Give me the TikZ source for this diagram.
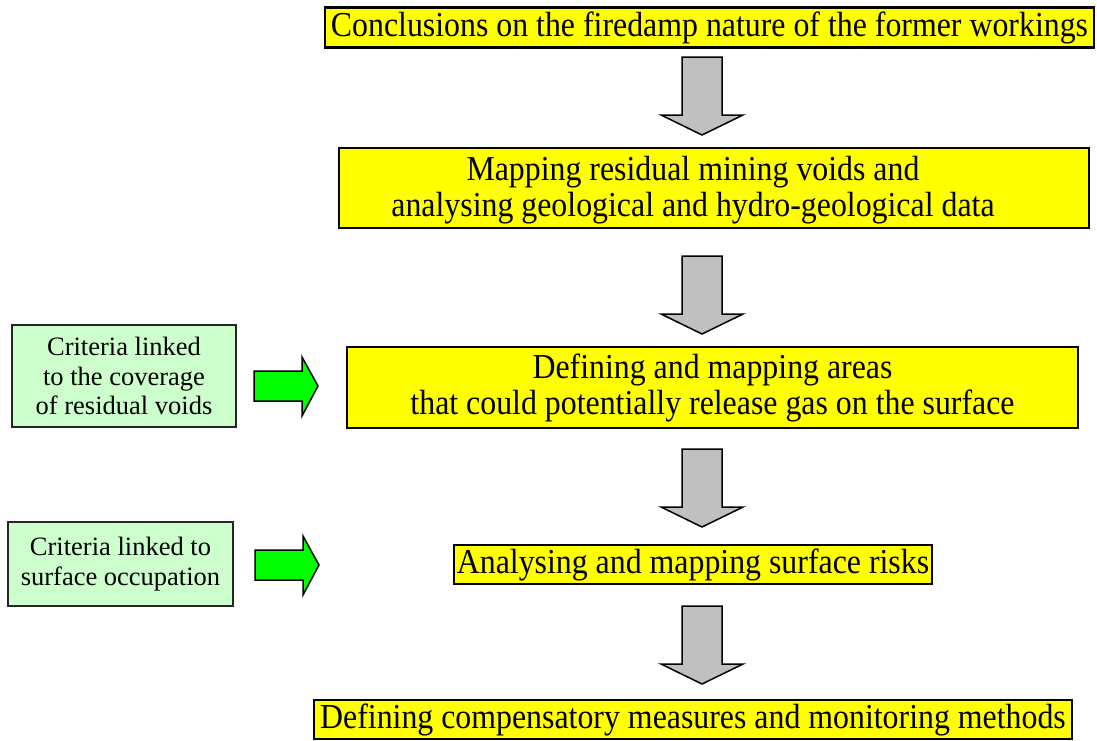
\documentclass[tikz,border=0pt]{standalone}
\usepackage{fontspec}
\setmainfont{Liberation Serif}
\newfontfamily\yfont{Liberation Serif}[FakeStretch=0.91]
\definecolor{yel}{RGB}{255,255,0}
\definecolor{lgreen}{RGB}{204,255,204}
\definecolor{bgreen}{RGB}{0,255,0}
\definecolor{agray}{RGB}{192,192,192}
\tikzset{
 ybox/.style={draw=black, line width=2.5pt, fill=yel, inner sep=0pt, font=\yfont\fontsize{35}{36}\selectfont, align=center},
 ytext/.style={inner sep=0pt, font=\yfont\fontsize{35}{36}\selectfont, align=center},
 gbox/.style={draw=black!85, line width=1.5pt, fill=lgreen, inner sep=0pt, font=\fontsize{26.5}{29.5}\selectfont, align=center},
 grayarrow/.style={draw=black, line width=1.5pt, fill=agray, line join=miter},
 greenarrow/.style={draw=black, line width=1.5pt, fill=bgreen, line join=miter},
 downarr/.pic={\filldraw[grayarrow] (-20,0) -- (20,0) -- (20,58) -- (41,58) -- (0,78) -- (-41,58) -- (-20,58) -- cycle;},
 rightarr/.pic={\filldraw[greenarrow] (0,-15) -- (48,-15) -- (48,-29) -- (64,0) -- (48,30) -- (48,15) -- (0,15) -- cycle;}
}
\begin{document}
\begin{tikzpicture}[x=1pt,y=-1pt]
\useasboundingbox (0,0) rectangle (1097,740);
% yellow boxes
\node[ybox, minimum width=769pt, minimum height=40pt] (b1) at (709.5,27.5) {Conclusions on the firedamp nature of the former workings};
\node[ybox, minimum width=750pt, minimum height=80pt] (b2) at (714,188) {};
\node[ytext] (t2) at (693,190) {Mapping residual mining voids and\\analysing geological and hydro-geological data};
\node[ybox, minimum width=731pt, minimum height=81pt] (b3) at (712.5,387.5) {Defining and mapping areas\\that could potentially release gas on the surface};
\node[ybox, minimum width=478pt, minimum height=39pt] (b4) at (693,564.5) {Analysing and mapping surface risks};
\node[ybox, minimum width=758pt, minimum height=39pt] (b5) at (693,719.5) {Defining compensatory measures and monitoring methods};
% green boxes
\node[gbox, minimum width=224pt, minimum height=102pt] (g1) at (124,376) {Criteria linked\\to the coverage\\of residual voids};
\node[gbox, minimum width=225pt, minimum height=84pt] (g2) at (120.5,564) {Criteria linked to\\surface occupation};
% gray block arrows
\coordinate (d1) at (702,57);
\coordinate (d2) at (702,256);
\coordinate (d3) at (702,449);
\coordinate (d4) at (702,606);
\pic at (d1) {downarr};
\pic at (d2) {downarr};
\pic at (d3) {downarr};
\pic at (d4) {downarr};
% green block arrows
\coordinate (r1) at (254,386);
\coordinate (r2) at (255,565);
\pic at (r1) {rightarr};
\pic at (r2) {rightarr};
\end{tikzpicture}
\end{document}
